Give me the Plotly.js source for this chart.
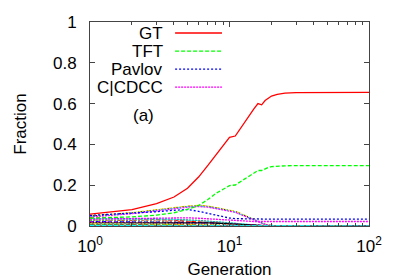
<!DOCTYPE html>
<html>
<head>
<meta charset="utf-8">
<script src="https://cdn.plot.ly/plotly-3.0.1.min.js"></script>
<style>html,body{margin:0;padding:0;background:#fff;}#chart{width:399px;height:279px;}</style>
</head>
<body>
<div id="chart"></div>
<script>
// ---- data ----
const generations = [1,2,3,4,5,6,7,8,9,10,11,12,13,14,15,16,17,18,19,20,22,25,30,40,50,70,100];

const gtValues     = [0.058,0.080,0.110,0.142,0.185,0.240,0.297,0.347,0.392,0.435,0.441,0.480,0.515,0.545,0.575,0.600,0.594,0.615,0.628,0.637,0.645,0.651,0.654,0.655,0.655,0.655,0.655];
const tftValues    = [0.038,0.045,0.053,0.065,0.082,0.100,0.130,0.160,0.180,0.198,0.201,0.217,0.233,0.248,0.262,0.272,0.272,0.281,0.287,0.291,0.294,0.295,0.296,0.296,0.296,0.296,0.296];
const pavlovValues = [0.052,0.062,0.070,0.077,0.081,0.072,0.062,0.052,0.044,0.039,0.036,0.035,0.034,0.034,0.034,0.034,0.034,0.034,0.034,0.034,0.034,0.034,0.034,0.034,0.034,0.034,0.034];
const ccdccValues  = [0.034,0.037,0.039,0.040,0.040,0.038,0.035,0.032,0.029,0.027,0.025,0.024,0.023,0.023,0.022,0.022,0.022,0.022,0.022,0.022,0.022,0.022,0.022,0.022,0.022,0.022,0.022];

const other01 = [0.050,0.066,0.080,0.091,0.098,0.101,0.098,0.091,0.083,0.076,0.072,0.062,0.052,0.043,0.032,0.022,0.015,0.009,0.005,0.003,0.001,0,0,0,0,0,0];
const other02 = [0.048,0.064,0.078,0.089,0.096,0.099,0.096,0.089,0.081,0.074,0.070,0.060,0.050,0.041,0.030,0.021,0.014,0.008,0.005,0.003,0.001,0,0,0,0,0,0];
const other03 = [0.046,0.062,0.076,0.087,0.094,0.097,0.094,0.087,0.079,0.072,0.069,0.058,0.048,0.039,0.029,0.020,0.013,0.008,0.004,0.002,0.001,0,0,0,0,0,0];
const other04 = [0.044,0.060,0.074,0.085,0.092,0.095,0.092,0.085,0.077,0.071,0.067,0.056,0.046,0.037,0.027,0.019,0.012,0.007,0.004,0.002,0.001,0,0,0,0,0,0];
const other05 = [0.040,0.036,0.032,0.028,0.025,0.022,0.019,0.016,0.013,0.011,0.009,0.007,0.005,0.004,0.003,0.002,0.001,0.001,0,0,0,0,0,0,0,0,0];
const other06 = [0.035,0.036,0.035,0.033,0.030,0.027,0.024,0.021,0.018,0.015,0.012,0.009,0.007,0.005,0.004,0.003,0.002,0.001,0.001,0,0,0,0,0,0,0,0];
const other07 = [0.030,0.028,0.026,0.024,0.022,0.020,0.018,0.016,0.014,0.012,0.010,0.008,0.006,0.005,0.004,0.003,0.002,0.001,0.001,0,0,0,0,0,0,0,0];
const other08 = [0.028,0.030,0.031,0.031,0.030,0.028,0.025,0.022,0.019,0.016,0.013,0.010,0.008,0.006,0.004,0.003,0.002,0.001,0.001,0,0,0,0,0,0,0,0];
const other09 = [0.025,0.023,0.021,0.019,0.017,0.015,0.013,0.011,0.009,0.008,0.006,0.005,0.004,0.003,0.002,0.001,0.001,0,0,0,0,0,0,0,0,0,0];
const other10 = [0.022,0.021,0.020,0.019,0.018,0.017,0.015,0.013,0.011,0.009,0.008,0.006,0.004,0.003,0.002,0.001,0.001,0,0,0,0,0,0,0,0,0,0];
const other11 = [0.020,0.019,0.018,0.017,0.016,0.015,0.014,0.013,0.012,0.011,0.010,0.009,0.008,0.007,0.006,0.005,0.004,0.003,0.002,0.001,0.001,0,0,0,0,0,0];
const other12 = [0.018,0.016,0.014,0.012,0.010,0.009,0.008,0.007,0.006,0.005,0.004,0.003,0.002,0.002,0.001,0.001,0,0,0,0,0,0,0,0,0,0,0];
const other13 = [0.015,0.016,0.017,0.018,0.018,0.017,0.016,0.014,0.012,0.010,0.008,0.006,0.005,0.004,0.003,0.002,0.001,0.001,0,0,0,0,0,0,0,0,0];
const other14 = [0.012,0.011,0.010,0.009,0.008,0.007,0.006,0.005,0.004,0.003,0.003,0.002,0.002,0.001,0.001,0,0,0,0,0,0,0,0,0,0,0,0];
const other15 = [0.010,0.010,0.009,0.009,0.008,0.007,0.006,0.005,0.004,0.003,0.002,0.002,0.001,0.001,0,0,0,0,0,0,0,0,0,0,0,0,0];
const other16 = [0.008,0.008,0.007,0.007,0.006,0.006,0.005,0.004,0.003,0.003,0.002,0.002,0.001,0.001,0,0,0,0,0,0,0,0,0,0,0,0,0];
const other17 = [0.006,0.006,0.005,0.005,0.004,0.004,0.003,0.003,0.002,0.002,0.001,0.001,0.001,0,0,0,0,0,0,0,0,0,0,0,0,0,0];
const other18 = [0.004,0.004,0.004,0.003,0.003,0.003,0.002,0.002,0.002,0.001,0.001,0.001,0,0,0,0,0,0,0,0,0,0,0,0,0,0,0];
const other19 = [0.003,0.003,0.002,0.002,0.002,0.002,0.001,0.001,0.001,0.001,0,0,0,0,0,0,0,0,0,0,0,0,0,0,0,0,0];
const other20 = [0.002,0.002,0.002,0.001,0.001,0.001,0.001,0.001,0,0,0,0,0,0,0,0,0,0,0,0,0,0,0,0,0,0,0];

const namedSeries = ["GT", "TFT", "Pavlov", "C|CDCC"];
const xTickLabels = ["10<sup>0</sup>", "10<sup>1</sup>", "10<sup>2</sup>"];
const xTickValues = [1, 10, 100];

// ---- styles (gnuplot postscript palette) ----
const palette = ["#ff0000","#00ff00","#0000ff","#ff00ff","#00ffff","#ffd800","#000000","#ff4d00","#808080"];
const dashes  = ["solid","4px,2px","2px,2px","2px,1px","3px,2px,1px,2px","5px,2px","1px,2px","6px,2px,2px,2px","3px,3px"];
const FONT = "Liberation Sans, Arial, sans-serif";

const others = [other01,other02,other03,other04,other05,other06,other07,other08,other09,other10,
                other11,other12,other13,other14,other15,other16,other17,other18,other19,other20];
const otherStyle = [[5,5],[6,6],[4,4],[3,3],[0,1],[4,0],[7,2],[8,3],[1,6],[2,1],[3,4],[0,6],[6,0],[5,2],[4,6],[7,1],[1,3],[2,5],[8,0],[4,1]];

const traces = [];
others.forEach((vals, i) => {
  const st = otherStyle[i];
  traces.push({x: generations, y: vals, type: "scatter", mode: "lines", showlegend: false, hoverinfo: "skip",
    line: {color: palette[st[0]], dash: dashes[st[1]], width: 1.1}});
});
const namedVals = [gtValues, tftValues, pavlovValues, ccdccValues];
const namedStyle = [[0,0],[1,1],[2,2],[3,3]];
for (let i = namedVals.length - 1; i >= 0; i--) {
  traces.push({x: generations, y: namedVals[i], type: "scatter", mode: "lines", name: namedSeries[i], showlegend: false,
    line: {color: palette[namedStyle[i][0]], dash: dashes[namedStyle[i][1]], width: 1.3}});
}

// custom gnuplot-like legend (text left, sample right)
const annotations = [];
const shapes = [];
namedSeries.forEach((nm, i) => {
  const yPaper = 0.946 - i * 0.0885;
  annotations.push({xref: "paper", yref: "paper", x: 0.269, y: yPaper, xanchor: "right", yanchor: "middle",
    text: nm, showarrow: false, font: {family: FONT, size: 17, color: "#000"}});
  shapes.push({type: "line", xref: "paper", yref: "paper", x0: 0.305, x1: 0.473, y0: yPaper, y1: yPaper,
    line: {color: palette[namedStyle[i][0]], dash: dashes[namedStyle[i][1]], width: 1.3}});
});
annotations.push({xref: "paper", yref: "paper", x: 0.19, y: 0.544, xanchor: "center", yanchor: "middle",
  text: "(a)", showarrow: false, font: {family: FONT, size: 17, color: "#000"}});

const axisCommon = {showline: true, linecolor: "#444", linewidth: 1, mirror: "ticks", ticks: "inside",
  tickcolor: "#444", showgrid: false, zeroline: false, tickfont: {family: FONT, size: 17, color: "#000"}};

const layout = {
  width: 399, height: 279,
  margin: {l: 90, r: 30, t: 22, b: 53, pad: 0},
  paper_bgcolor: "#fff", plot_bgcolor: "#fff",
  font: {family: FONT, size: 17, color: "#000"},
  showlegend: false,
  xaxis: Object.assign({}, axisCommon, {
    type: "log", range: [0, 2], tickmode: "array", tickvals: xTickValues, ticktext: xTickLabels, ticklen: 5,
    ticklabelstandoff: 5,
    minor: {tickmode: "array", tickvals: [2,3,4,5,6,7,8,9,20,30,40,50,60,70,80,90], ticks: "inside", ticklen: 3, tickcolor: "#444"},
    title: {text: "Generation", font: {family: FONT, size: 17}, standoff: 10}
  }),
  yaxis: Object.assign({}, axisCommon, {
    range: [0, 1], tickmode: "linear", tick0: 0, dtick: 0.2, ticklen: 5, ticklabelstandoff: 9,
    title: {text: "Fraction", font: {family: FONT, size: 17}, standoff: 22}
  }),
  annotations: annotations,
  shapes: shapes
};

Plotly.newPlot("chart", traces, layout, {staticPlot: true, displayModeBar: false});
</script>
</body>
</html>
